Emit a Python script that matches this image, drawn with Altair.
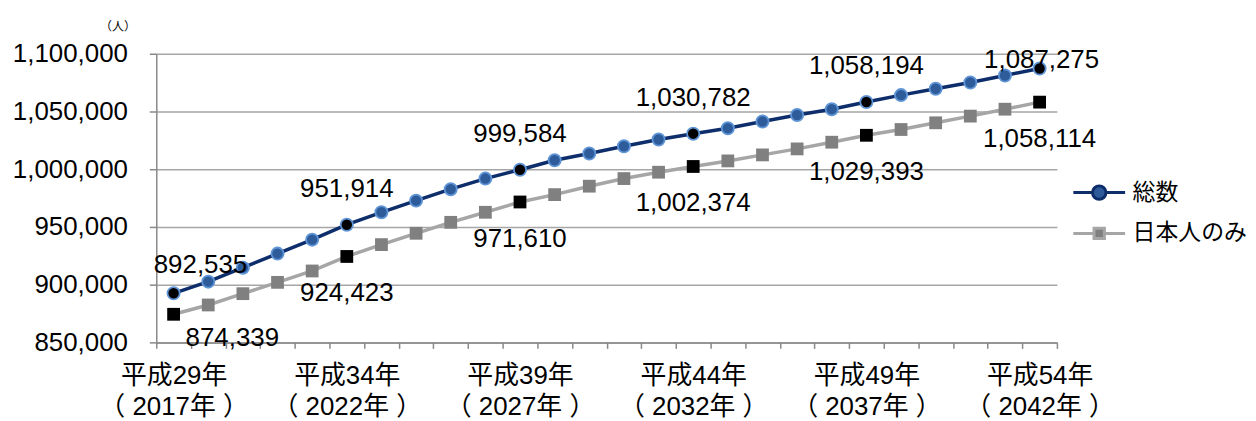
import altair as alt
import pandas as pd

# ---------------- data ----------------
years = [str(y) for y in range(2017, 2043)]
series_names = ["総数", "日本人のみ"]
total = [892535, 902600, 914700, 926900, 939000, 951914, 962700, 972800, 982700,
         991900, 999584, 1007800, 1013600, 1019900, 1025700, 1030782, 1035500,
         1041300, 1047000, 1052000, 1058194, 1064200, 1069700, 1075100, 1081200,
         1087275]
japanese = [874339, 882400, 892200, 902000, 911850, 924423, 934700, 944500, 954000,
            962700, 971610, 978000, 985300, 991900, 997400, 1002374, 1007200,
            1012400, 1017600, 1023400, 1029393, 1034400, 1040200, 1046000, 1052000,
            1058114]
label_years = ["2017", "2022", "2027", "2032", "2037", "2042"]
heisei_labels = ["平成29年", "平成34年", "平成39年", "平成44年", "平成49年", "平成54年"]
western_labels = ["（ 2017年 ）", "（ 2022年 ）", "（ 2027年 ）", "（ 2032年 ）",
                  "（ 2037年 ）", "（ 2042年 ）"]
y_ticks = [850000, 900000, 950000, 1000000, 1050000, 1100000]
unit_label = "（人）"

rows = []
for s, vals in zip(series_names, [total, japanese]):
    for yr, v in zip(years, vals):
        rows.append({"year": yr, "series": s, "value": v, "hl": yr in label_years})
df = pd.DataFrame(rows)

# ---------------- style ----------------
FONT = "Liberation Sans, Arial, Noto Sans CJK JP"
NAVY = "#0e2d6b"
BLUE = "#2e5b9a"
LIGHTBLUE = "#5f95d6"
LGRAY = "#a6a6a6"
MGRAY = "#808080"
AXISGRAY = "#898989"

label_expr = ""
for yr, h, w in zip(label_years, heisei_labels, western_labels):
    label_expr += f"datum.value == '{yr}' ? ['{h}', '{w}'] : "
label_expr += "''"

x_axis = alt.Axis(
    title=None, labelExpr=label_expr, labelAngle=0, labelFont=FONT,
    labelFontSize=26, labelColor="black", labelLineHeight=31, labelPadding=14,
    labelOverlap=False, labelFlush=False, tickBand="extent", ticks=True,
    tickSize=6, tickColor=AXISGRAY, tickWidth=1.5, domainColor=AXISGRAY,
    domainWidth=1.5, grid=False,
)
y_axis = alt.Axis(
    title=unit_label, titleAngle=0, titleFont=FONT, titleFontSize=12,
    titleFontWeight="normal", titleColor="black", titleX=-39, titleY=-27,
    titleAlign="center", titleBaseline="middle",
    values=y_ticks, labelExpr="format(datum.value, ',.0f')", labelFont=FONT,
    labelFontSize=26, labelColor="black", labelPadding=22, tickSize=7,
    tickColor=AXISGRAY, tickWidth=1.5, domainColor=AXISGRAY, domainWidth=1.5,
    gridColor=LGRAY, gridWidth=1.5,
)

x_enc = alt.X("year:O", sort=years,
              scale=alt.Scale(type="band", paddingInner=0, paddingOuter=0, domain=years),
              axis=x_axis)
y_enc = alt.Y("value:Q", scale=alt.Scale(domain=[850000, 1100000], nice=False, zero=False),
              axis=y_axis)

base = alt.Chart(df).encode(x=x_enc, y=y_enc)

PATH_C = "M-1,0H-0.26M0.26,0H1M-0.26,0A0.26,0.26,0,1,1,0.26,0A0.26,0.26,0,1,1,-0.26,0Z"
PATH_S = "M-1,0H-0.2M0.2,0H1M-0.2,-0.2H0.2V0.2H-0.2Z"

legend = alt.Legend(
    orient="none", legendX=920, legendY=112, title=None, labelFont=FONT,
    labelFontSize=23, labelColor="black", symbolSize=2704, symbolStrokeWidth=3,
    symbolFillColor=BLUE, symbolStrokeColor=NAVY, labelOffset=6, padding=0,
    rowPadding=0,
)

line_tot = base.mark_line(strokeWidth=3.5, color=NAVY).transform_filter(
    "datum.series == '総数'")
line_jp = base.mark_line(strokeWidth=3.5, color=LGRAY).transform_filter(
    "datum.series == '日本人のみ'")

legend_layer = base.mark_point(filled=True, opacity=1).encode(
    shape=alt.Shape("series:N", scale=alt.Scale(domain=series_names, range=[PATH_C, PATH_S]),
                    legend=legend),
    fill=alt.Fill("series:N", scale=alt.Scale(domain=series_names, range=[BLUE, MGRAY]),
                  legend=legend),
    stroke=alt.Stroke("series:N", scale=alt.Scale(domain=series_names, range=[NAVY, LGRAY]),
                      legend=legend),
).transform_filter("datum.value < 0")

tot_pts = base.mark_point(shape="circle", filled=True, size=150, fill=BLUE,
                          stroke=LIGHTBLUE, strokeWidth=1.8, opacity=1).transform_filter(
    "datum.series == '総数' && !datum.hl")
tot_hl = base.mark_point(shape="circle", filled=True, size=150, fill="black",
                         stroke=LIGHTBLUE, strokeWidth=1.8, opacity=1).transform_filter(
    "datum.series == '総数' && datum.hl")
jp_pts = base.mark_point(shape="square", filled=True, size=165, fill=MGRAY,
                         opacity=1).transform_filter("datum.series == '日本人のみ' && !datum.hl")
jp_hl = base.mark_point(shape="square", filled=True, size=165, fill="black",
                        opacity=1).transform_filter("datum.series == '日本人のみ' && datum.hl")

def labels(filt, dx, dy):
    return base.mark_text(font=FONT, fontSize=26, color="black", align="center",
                          baseline="middle", dx=dx, dy=dy).encode(
        text=alt.Text("value:Q", format=",")).transform_filter(filt)

lab_tot = labels("datum.series == '総数' && datum.hl && datum.year != '2017' && datum.year != '2042'", 0, -36)
lab_tot_first = labels("datum.series == '総数' && datum.year == '2017'", 27, -28)
lab_tot_last = labels("datum.series == '総数' && datum.year == '2042'", 2, -8)
lab_jp = labels("datum.series == '日本人のみ' && datum.hl && datum.year != '2017'", 0, 37)
lab_jp_first = labels("datum.series == '日本人のみ' && datum.year == '2017'", 59, 24)

chart = alt.layer(
    line_tot, line_jp, legend_layer, tot_pts, jp_pts, tot_hl, jp_hl,
    lab_tot, lab_tot_first, lab_tot_last, lab_jp, lab_jp_first,
).properties(
    width=905, height=290,
    autosize=alt.AutoSizeParams(type="none"),
    padding={"left": 149, "top": 45, "right": 192, "bottom": 78},
    background="white",
).configure_view(stroke=None)

chart.save("out.html", embed_options={"renderer": "svg", "actions": False})
